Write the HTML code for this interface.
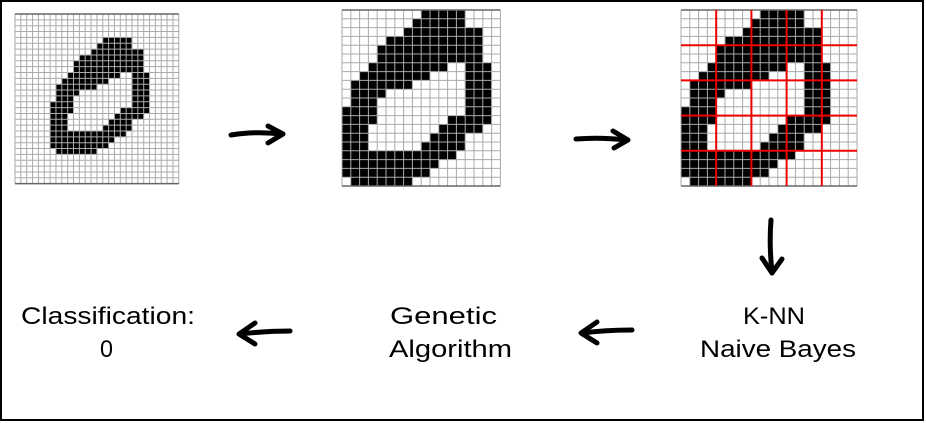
<!DOCTYPE html>
<html><head><meta charset="utf-8"><style>
html,body{margin:0;padding:0;background:#fff}
svg{display:block}
text{font-family:"Liberation Sans",sans-serif;font-size:24px;fill:#000}
</style></head><body>
<svg id="s" width="926" height="423" viewBox="0 0 926 423" xmlns="http://www.w3.org/2000/svg">
<rect x="1" y="1" width="922" height="419" fill="none" stroke="#000" stroke-width="2"/>
<g id="g1"></g><g id="g2"></g><g id="g3"></g>
<g fill="none" stroke="#000" stroke-width="5" stroke-linecap="round" stroke-linejoin="round">
<path d="M231 135 Q255 131 282 134"/><path d="M268 126 L283 134 L268 143"/>
<path d="M576 139 Q600 137 627 140"/><path d="M613 131 L628 140 L614 148"/>
<path d="M771 220 Q769 245 772 272"/><path d="M762 258 L772 273 L782 259"/>
<path d="M290 331 Q265 331 240 334"/><path d="M255 323 L239 334 L255 344"/>
<path d="M632 330 Q606 330 582 333"/><path d="M597 322 L581 333 L597 343"/>
</g>
<text x="21" y="324" textLength="174" lengthAdjust="spacingAndGlyphs">Classification:</text>
<text x="100" y="357" textLength="13" lengthAdjust="spacingAndGlyphs">0</text>
<text x="390" y="324" textLength="107" lengthAdjust="spacingAndGlyphs">Genetic</text>
<text x="389" y="357" textLength="123" lengthAdjust="spacingAndGlyphs">Algorithm</text>
<text x="743" y="324" textLength="62" lengthAdjust="spacingAndGlyphs">K-NN</text>
<text x="700" y="357" textLength="156" lengthAdjust="spacingAndGlyphs">Naive Bayes</text>
</svg>
<script>
var M=[[9,13],[8,13],[7,15],[5,15],[4,15],[4,15],[3,11,14,16],[2,9,14,16],[1,7,14,16],[1,4,14,16],[1,3,14,16],[0,3,14,16],[0,3,12,16],[0,2,11,15],[0,2,10,13],[0,2,9,13],[0,12],[0,10],[0,9],[1,7]];
var NS="http://www.w3.org/2000/svg";
function el(p,t,a){var e=document.createElementNS(NS,t);for(var k in a)e.setAttribute(k,a[k]);p.appendChild(e);return e;}
function grid(id,x,y,cols,rows,c,offc,offr,red){
 var g=document.getElementById(id);
 el(g,'rect',{x:x,y:y,width:cols*c,height:rows*c,fill:'#fff'});
 for(var r=0;r<M.length;r++){var s=M[r];for(var i=0;i<s.length;i+=2){
  el(g,'rect',{x:x+(s[i]+offc)*c,y:y+(r+offr)*c,width:(s[i+1]-s[i]+1)*c,height:c,fill:'#000'});}}
 for(var i=0;i<=cols;i++)el(g,'line',{x1:x+i*c,y1:y,x2:x+i*c,y2:y+rows*c,stroke:'#aaa','stroke-width':1});
 for(var j=0;j<=rows;j++)el(g,'line',{x1:x,y1:y+j*c,x2:x+cols*c,y2:y+j*c,stroke:'#aaa','stroke-width':1});
 el(g,'line',{x1:x,y1:y,x2:x+cols*c,y2:y,stroke:'#666','stroke-width':1.5});
 el(g,'line',{x1:x,y1:y+rows*c,x2:x+cols*c,y2:y+rows*c,stroke:'#666','stroke-width':1.5});
 if(red){for(var i=4;i<cols;i+=4)el(g,'line',{x1:x+i*c,y1:y,x2:x+i*c,y2:y+rows*c,stroke:'#e00','stroke-width':2});
  for(var j=4;j<rows;j+=4)el(g,'line',{x1:x,y1:y+j*c,x2:x+cols*c,y2:y+j*c,stroke:'#e00','stroke-width':2});}
}
grid('g1',15,14,28,29,5.85,6,4,false);
grid('g2',342,10,18,20,8.8,0,0,false);
grid('g3',681,10,20,20,8.8,0,0,true);
</script>
</body></html>
